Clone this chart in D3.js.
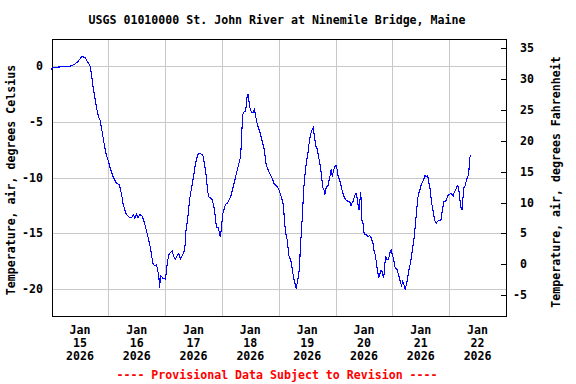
<!DOCTYPE html>
<html><head><meta charset="utf-8">
<script src="https://cdn.jsdelivr.net/npm/d3@7/dist/d3.min.js"></script>
<style>
html,body{margin:0;padding:0;background:#fff;}
text{font-family:"DejaVu Sans Mono",monospace;font-weight:bold;font-size:11.6px;}
</style></head>
<body><svg id="c" width="576" height="384"></svg>
<script>
const title = "USGS 01010000 St. John River at Ninemile Bridge, Maine";
const leftLabel = "Temperature, air, degrees Celsius";
const rightLabel = "Temperature, air, degrees Fahrenheit";
const footer = "---- Provisional Data Subject to Revision ----";
const startDate = new Date(2026, 0, 15);
const endDate = new Date(2026, 0, 23);
const dayLabels = ["15","16","17","18","19","20","21","22"];
const yTicksC = [0,-5,-10,-15,-20];
const yTicksF = [35,30,25,20,15,10,5,0,-5];
// hours since Jan 15 00:00
const hours = [0,0.5,3.6,6.4,8.5,9.9,11.3,12.7,13.4,14.1,15.1,16.2,16.9,17.6,18.3,19,19.9,20.4,21.1,21.8,22.5,23.2,23.9,24.6,25.5,26,26.7,27.4,28.6,29.1,29.7,30.2,31,31.6,32.6,33.8,34.5,35.2,35.9,36.6,37.3,38.2,38.9,39.7,40.4,41.1,41.8,42.3,42.9,43.6,44.3,44.8,45.4,45.7,46,46.6,47.1,47.5,
48.2,48.6,49.2,49.6,50.3,51,51.7,52.4,53.1,53.8,54.5,55.2,55.9,56.4,56.8,57.4,57.8,58.3,59,59.6,60.2,60.7,61.3,61.9,62.7,63.5,64.1,64.7,65.4,65.9,66.4,67.2,67.9,68.6,69,69.5,70,70.5,71,71.3,71.7,72.3,72.8,73.5,74.2,75,75.7,76.4,77.1,77.8,78.5,79.2,79.9,80.3,80.7,81.3,82,82.4,82.7,83,83.4,83.8,84.4,85.1,85.7,86.1,86.6,87.2,87.9,88.6,89.3,89.7,90.2,90.6,91.1,91.9,92.6,93.3,94,94.7,95.4,
96.1,96.4,97.1,97.8,98.2,98.5,99,99.6,100,100.3,100.7,101.3,101.7,102.3,103,103.4,103.8,104.4,104.8,105.2,105.6,106.1,106.5,106.9,107.3,107.9,108.3,108.7,109.2,109.6,110.2,110.6,111.1,111.7,112.3,112.7,113.3,113.7,114.1,114.5,115.1,115.5,116.1,116.8,117.3,117.7,118.2,118.6,119,119.6,120.2,120.6,121.1,121.7,122.4,123.1,123.8,124.5,125.2,125.9,126.5,126.9,127.5,128,128.6,129,129.4,129.9,130.3,130.6,130.9,131.1,131.6,132,132.5,133.1,133.7,134.4,135.1,135.8,136.3,136.9,137.3,137.8,138.2,138.6,139.2,139.7,140.3,140.7,141.1,141.7,142.4,143,143.5,
144.5,145.2,145.9,146.6,147.3,147.9,148.3,148.9,149.4,149.9,150.4,150.8,151.4,152,152.5,153,153.4,153.8,154.2,154.6,155.1,155.6,156.2,156.8,157.3,157.7,158.3,158.9,159.4,160,160.6,161,161.4,162,162.5,163.1,163.8,164.5,164.9,165.3,165.8,166.3,166.9,167.3,168,168.7,169.3,169.7,170.1,170.7,171.3,171.7,172.1,172.5,173,173.4,173.8,174.2,174.8,175.3,175.9,176.3,176.6,176.9];
const tempC = [-0.3,-0.1,-0.06,0,0.03,0.2,0.45,0.86,0.83,0.8,0.45,0.1,-0.74,-1.9,-2.8,-3.7,-4.6,-4.7,-5.5,-6.4,-7.3,-8.0,-8.4,-9.0,-9.6,-9.9,-10.2,-10.5,-10.6,-11.0,-11.6,-12.3,-12.9,-13.3,-13.5,-13.6,-13.3,-13.6,-13.3,-13.6,-13.3,-13.4,-13.8,-14.4,-15.0,-15.6,-16.3,-17.0,-17.7,-17.9,-17.8,-18.2,-19.0,-19.9,-18.8,-18.9,-19.05,-19.0,
-19.1,-18.2,-17.3,-16.9,-16.7,-16.6,-17.1,-17.3,-17.0,-16.8,-17.3,-17.0,-16.7,-16.1,-14.8,-13.9,-13.2,-12.0,-11.1,-10.4,-9.6,-8.9,-8.3,-7.9,-7.8,-7.9,-8.1,-8.9,-9.9,-11.1,-11.7,-11.8,-12.0,-12.6,-13.2,-14.1,-14.5,-14.5,-15.0,-15.3,-14.7,-13.3,-12.9,-12.4,-12.3,-12.0,-11.7,-11.1,-10.5,-9.9,-9.3,-8.7,-8.1,-6.4,-4.4,-4.1,-4.0,-3.3,-2.5,-2.5,-3.1,-3.7,-4.1,-4.2,-3.9,-4.3,-4.9,-5.4,-5.8,-6.4,-7.0,-7.3,-8.0,-8.7,-9.1,-9.5,-9.8,-10.1,-10.5,-10.7,-10.8,
-11.1,-11.3,-11.7,-12.3,-13.2,-14.1,-15.0,-15.6,-16.4,-17.0,-17.2,-17.6,-18.2,-19.0,-19.6,-20.0,-19.4,-18.8,-17.9,-15.9,-14.8,-12.9,-11.1,-10.2,-9.2,-8.3,-7.9,-7.1,-6.4,-6.0,-5.6,-5.5,-6.4,-7.2,-7.4,-8.0,-8.6,-9.2,-9.8,-10.8,-11.1,-11.5,-10.8,-10.7,-10.2,-9.8,-9.2,-9.9,-9.5,-9.0,-8.9,-9.2,-9.9,-10.2,-10.8,-11.4,-11.8,-12.0,-12.1,-12.1,-12.5,-12.3,-12.1,-11.6,-11.4,-11.7,-12.3,-12.9,-12.0,-11.3,-12.3,-13.8,-14.1,-14.9,-15.1,-15.1,-15.3,-15.2,-15.4,-15.9,-16.6,-17.0,-17.8,-18.4,-19.0,-18.7,-18.3,-18.4,-19.0,-18.2,-17.0,-17.3,-17.3,-16.7,-16.5,
-17.3,-18.1,-18.2,-18.7,-19.3,-19.7,-19.3,-19.6,-20.0,-19.6,-19.1,-18.4,-17.9,-17.2,-16.4,-15.7,-15.0,-13.9,-13.2,-12.0,-11.4,-11.1,-10.6,-10.4,-10.1,-9.8,-9.9,-9.8,-10.4,-11.1,-12.3,-12.7,-13.3,-13.9,-14.1,-13.9,-13.8,-13.8,-13.2,-12.7,-12.1,-12.1,-12.0,-11.6,-11.5,-11.4,-11.5,-11.6,-11.3,-11.1,-10.8,-10.7,-11.1,-11.9,-12.7,-12.9,-11.9,-10.9,-10.7,-10.2,-9.9,-9.5,-8.4,-8.0];

const L = 51.5, R = 506, T = 39.5, B = 316;
const svg = d3.select("#c");
const x = d3.scaleTime().domain([startDate, endDate]).range([L, R]);
const y = d3.scaleLinear().domain([-22.4, 2.4]).range([B, T]);
const yF = d3.scaleLinear().domain([-22.4*1.8+32, 2.4*1.8+32]).range([B, T]);
const data = hours.map((h,i)=>({t:new Date(startDate.getTime()+h*3600e3), v:tempC[i]}));

// grid
const g = svg.append("g").attr("shape-rendering","crispEdges");
g.selectAll(".hg").data(yTicksC).enter().append("line")
  .attr("x1",L).attr("x2",R).attr("y1",d=>Math.round(y(d))+0.5).attr("y2",d=>Math.round(y(d))+0.5)
  .attr("stroke","#c8c8c8");
const mids = d3.timeDay.range(d3.timeDay.offset(startDate,1), endDate);
g.selectAll(".vg").data(mids).enter().append("line")
  .attr("y1",T).attr("y2",B).attr("x1",d=>Math.round(x(d))+0.5).attr("x2",d=>Math.round(x(d))+0.5)
  .attr("stroke","#c8c8c8");

// line
svg.append("path").datum(data)
  .attr("d", d3.line().x(d=>x(d.t)).y(d=>y(d.v)))
  .attr("fill","none").attr("stroke","#0000ff").attr("stroke-width",1.1)
  .attr("shape-rendering","crispEdges");

// right axis ticks inward
g.selectAll(".ft").data(yTicksF).enter().append("line")
  .attr("x1",R-5).attr("x2",R).attr("y1",d=>Math.round(yF(d))+0.5).attr("y2",d=>Math.round(yF(d))+0.5)
  .attr("stroke","#000");

// border
g.append("rect").attr("x",Math.round(L)+0.5).attr("y",Math.round(T)-0.5)
  .attr("width",Math.round(R)-Math.round(L)).attr("height",Math.round(B)-Math.round(T)+1)
  .attr("fill","none").attr("stroke","#000");

// title
svg.append("text").attr("x",277).attr("y",24).attr("text-anchor","middle").text(title);

// left tick labels
svg.selectAll(".lt").data(yTicksC).enter().append("text")
  .attr("x",43).attr("y",d=>y(d)+4).attr("text-anchor","end").text(d=>String(d));
// right tick labels
svg.selectAll(".rt").data(yTicksF).enter().append("text")
  .attr("x",d=>d<0?513:520).attr("y",d=>yF(d)+4).attr("text-anchor","start").text(d=>String(d));

// x labels at noon
const noons = dayLabels.map((s,i)=>new Date(2026,0,15+i,12));
const xl = svg.selectAll(".xl").data(noons).enter().append("text")
  .attr("text-anchor","middle").attr("x",d=>x(d));
xl.append("tspan").attr("x",d=>x(d)).attr("y",334).text("Jan");
xl.append("tspan").attr("x",d=>x(d)).attr("y",347).text((d,i)=>dayLabels[i]);
xl.append("tspan").attr("x",d=>x(d)).attr("y",360).text("2026");

// axis titles
svg.append("text").attr("transform","translate(15,180) rotate(-90)").attr("text-anchor","middle").text(leftLabel);
svg.append("text").attr("transform","translate(560,182) rotate(-90)").attr("text-anchor","middle").text(rightLabel);

// footer
svg.append("text").attr("x",277).attr("y",379).attr("text-anchor","middle").attr("fill","#ff0000").text(footer);
</script></body></html>
